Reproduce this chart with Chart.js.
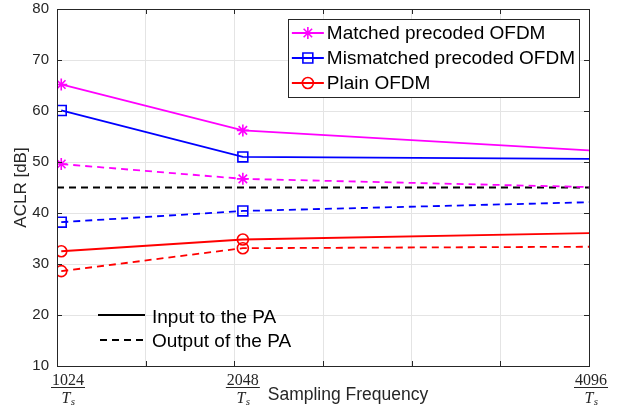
<!DOCTYPE html>
<html>
<head>
<meta charset="utf-8">
<script src="https://cdn.jsdelivr.net/npm/chart.js"></script>
<style>
html, body { margin: 0; padding: 0; background: #fff; }
</style>
</head>
<body>
<canvas id="aclr-chart" width="618" height="411"></canvas>
<script>
// sampling frequency (multiples of 1/Ts)
var freqs = [1024, 2048, 4096];
var freqTickLabels = ['1024', '2048', '4096'];

// ACLR [dB], input to the PA (solid)
var matchedInput = [65.2, 56.2, 52.1];
var mismatchedInput = [60.1, 51.0, 50.6];
var plainInput = [32.5, 34.8, 36.1];

// ACLR [dB], output of the PA (dashed)
var matchedOutput = [49.6, 46.7, 45.0];
var mismatchedOutput = [38.2, 40.4, 42.2];
var plainOutput = [28.6, 33.1, 33.4];

// reference level
var limitFreqs = [1000, 4096];
var limitLevel = [45, 45];

var seriesNames = ['Matched precoded OFDM', 'Mismatched precoded OFDM', 'Plain OFDM'];
var styleNames = ['Input to the PA', 'Output of the PA'];

var AXIS = '#262626';
var GRID = '#e4e4e4';
var FONT = 'Liberation Sans, Arial, sans-serif';
var DASH = [7, 5];

function pts(xs, ys) {
    return xs.map(function (x, i) { return { x: x, y: ys[i] }; });
}

function series(label, xs, ys, color, marker, radius, dashed) {
    return {
        label: label,
        data: pts(xs, ys),
        borderColor: color,
        backgroundColor: 'rgba(0,0,0,0)',
        borderWidth: 1.8,
        borderDash: dashed ? DASH : [],
        pointStyle: marker,
        pointRadius: marker ? radius : 0,
        pointBorderColor: color,
        pointBackgroundColor: 'rgba(0,0,0,0)',
        pointBorderWidth: 1.6,
        tension: 0,
        clip: 0
    };
}

var datasets = [
    series(seriesNames[0], freqs, matchedInput, '#ff00ff', 'star', 6, false),
    series(seriesNames[1], freqs, mismatchedInput, '#0000ff', 'rect', 7, false),
    series(seriesNames[2], freqs, plainInput, '#ff0000', 'circle', 5.5, false),
    series(seriesNames[0], freqs, matchedOutput, '#ff00ff', 'star', 6, true),
    series(seriesNames[1], freqs, mismatchedOutput, '#0000ff', 'rect', 7, true),
    series(seriesNames[2], freqs, plainOutput, '#ff0000', 'circle', 5.5, true),
    series('limit', limitFreqs, limitLevel, '#000000', false, 0, true)
];

function marker(ctx, ds, x, y) {
    ctx.save();
    ctx.strokeStyle = ds.pointBorderColor;
    ctx.fillStyle = 'rgba(0,0,0,0)';
    ctx.lineWidth = ds.pointBorderWidth;
    ctx.setLineDash([]);
    Chart.helpers.drawPoint(ctx, {
        pointStyle: ds.pointStyle,
        radius: ds.pointRadius,
        rotation: 0,
        borderWidth: ds.pointBorderWidth
    }, x, y);
    ctx.restore();
}

function sample(ctx, x1, x2, y, color, dash) {
    ctx.save();
    ctx.strokeStyle = color;
    ctx.lineWidth = 1.8;
    ctx.setLineDash(dash);
    ctx.beginPath();
    ctx.moveTo(x1, y);
    ctx.lineTo(x2, y);
    ctx.stroke();
    ctx.restore();
}

// box, inward ticks, fraction tick labels, x title and both legends
var decorations = {
    id: 'decorations',
    afterDraw: function (chart) {
        var ctx = chart.ctx;
        var a = chart.chartArea;
        var xs = chart.scales.x, ys = chart.scales.y;

        ctx.save();
        ctx.strokeStyle = AXIS;
        ctx.lineWidth = 1;
        ctx.strokeRect(Math.round(a.left) + 0.5, Math.round(a.top) + 0.5,
            Math.round(a.right - a.left), Math.round(a.bottom - a.top));
        ctx.beginPath();
        xs.ticks.forEach(function (t) {
            var px = Math.round(xs.getPixelForValue(t.value)) + 0.5;
            ctx.moveTo(px, a.bottom); ctx.lineTo(px, a.bottom - 5);
            ctx.moveTo(px, a.top); ctx.lineTo(px, a.top + 5);
        });
        ys.ticks.forEach(function (t) {
            var py = Math.round(ys.getPixelForValue(t.value)) + 0.5;
            ctx.moveTo(a.left, py); ctx.lineTo(a.left + 5, py);
            ctx.moveTo(a.right, py); ctx.lineTo(a.right - 5, py);
        });
        ctx.stroke();

        // x tick labels as fractions  N / Ts
        ctx.fillStyle = AXIS;
        ctx.textAlign = 'center';
        freqs.forEach(function (f, i) {
            var cx = xs.getPixelForValue(f);
            cx = Math.min(Math.max(cx, a.left + 11), a.right + 2);
            ctx.font = '16px "Liberation Serif", "DejaVu Serif", serif';
            ctx.textBaseline = 'alphabetic';
            ctx.fillText(freqTickLabels[i], cx, a.bottom + 19);
            var w = ctx.measureText(freqTickLabels[i]).width + 2;
            ctx.fillRect(cx - w / 2, a.bottom + 21, w, 1);
            ctx.font = 'italic 16px "Liberation Serif", "DejaVu Serif", serif';
            ctx.fillText('T', cx - 2, a.bottom + 37);
            ctx.font = 'italic 11px "Liberation Serif", "DejaVu Serif", serif';
            ctx.fillText('s', cx + 5, a.bottom + 39);
        });

        // x axis title
        ctx.font = '17.5px ' + FONT;
        ctx.textBaseline = 'middle';
        ctx.fillText('Sampling Frequency', (a.left + a.right) / 2 + 25, a.bottom + 29);

        // series legend (top right, boxed)
        ctx.font = '19px ' + FONT;
        var tw = 0;
        seriesNames.forEach(function (n) { tw = Math.max(tw, ctx.measureText(n).width); });
        var bw = 4 + 32 + 3 + tw + 4;
        var bx = a.right - 10 - bw, by = a.top + 10, bh = 78;
        ctx.fillStyle = '#fff';
        ctx.fillRect(bx, by, bw, bh);
        ctx.strokeStyle = AXIS;
        ctx.lineWidth = 1;
        ctx.strokeRect(Math.round(bx) + 0.5, Math.round(by) + 0.5, Math.round(bw), bh);
        ctx.textAlign = 'left';
        for (var i = 0; i < 3; i++) {
            var ds = datasets[i];
            var ry = by + 14 + i * 25;
            sample(ctx, bx + 4, bx + 36, ry, ds.borderColor, []);
            marker(ctx, ds, bx + 20, ry);
            ctx.fillStyle = '#000';
            ctx.fillText(seriesNames[i], bx + 39, ry + 1);
        }

        // line style legend (bottom left, no box)
        var lx = a.left + 41;
        sample(ctx, lx, lx + 47, a.bottom - 51, '#000', []);
        sample(ctx, lx + 2, lx + 47, a.bottom - 26, '#000', DASH);
        ctx.fillStyle = '#000';
        ctx.fillText(styleNames[0], lx + 54, a.bottom - 48);
        ctx.fillText(styleNames[1], lx + 54, a.bottom - 24);
        ctx.restore();
    }
};

var ctx = document.getElementById('aclr-chart').getContext('2d');
var chart = new Chart(ctx, {
    type: 'line',
    data: { datasets: datasets },
    options: {
        responsive: false,
        animation: false,
        layout: { padding: { left: 0, right: 29, top: 0, bottom: 0 } },
        plugins: {
            legend: { display: false },
            tooltip: { enabled: false }
        },
        scales: {
            x: {
                type: 'linear',
                min: 1000,
                max: 4000,
                ticks: { display: false, stepSize: 500 },
                grid: { color: GRID, drawTicks: false },
                border: { display: false },
                afterFit: function (s) { s.height = 45; }
            },
            y: {
                min: 10,
                max: 80,
                ticks: { stepSize: 10, color: AXIS, padding: 0, font: { family: FONT, size: 15 } },
                grid: { color: GRID, drawTicks: true, tickLength: 8, tickColor: 'rgba(0,0,0,0)' },
                border: { display: false },
                title: {
                    display: true,
                    text: 'ACLR [dB]',
                    color: AXIS,
                    font: { family: FONT, size: 17 },
                    padding: { top: 11, bottom: 0 }
                },
                afterFit: function (s) { s.width = 57; }
            }
        }
    },
    plugins: [decorations]
});
</script>
</body>
</html>
